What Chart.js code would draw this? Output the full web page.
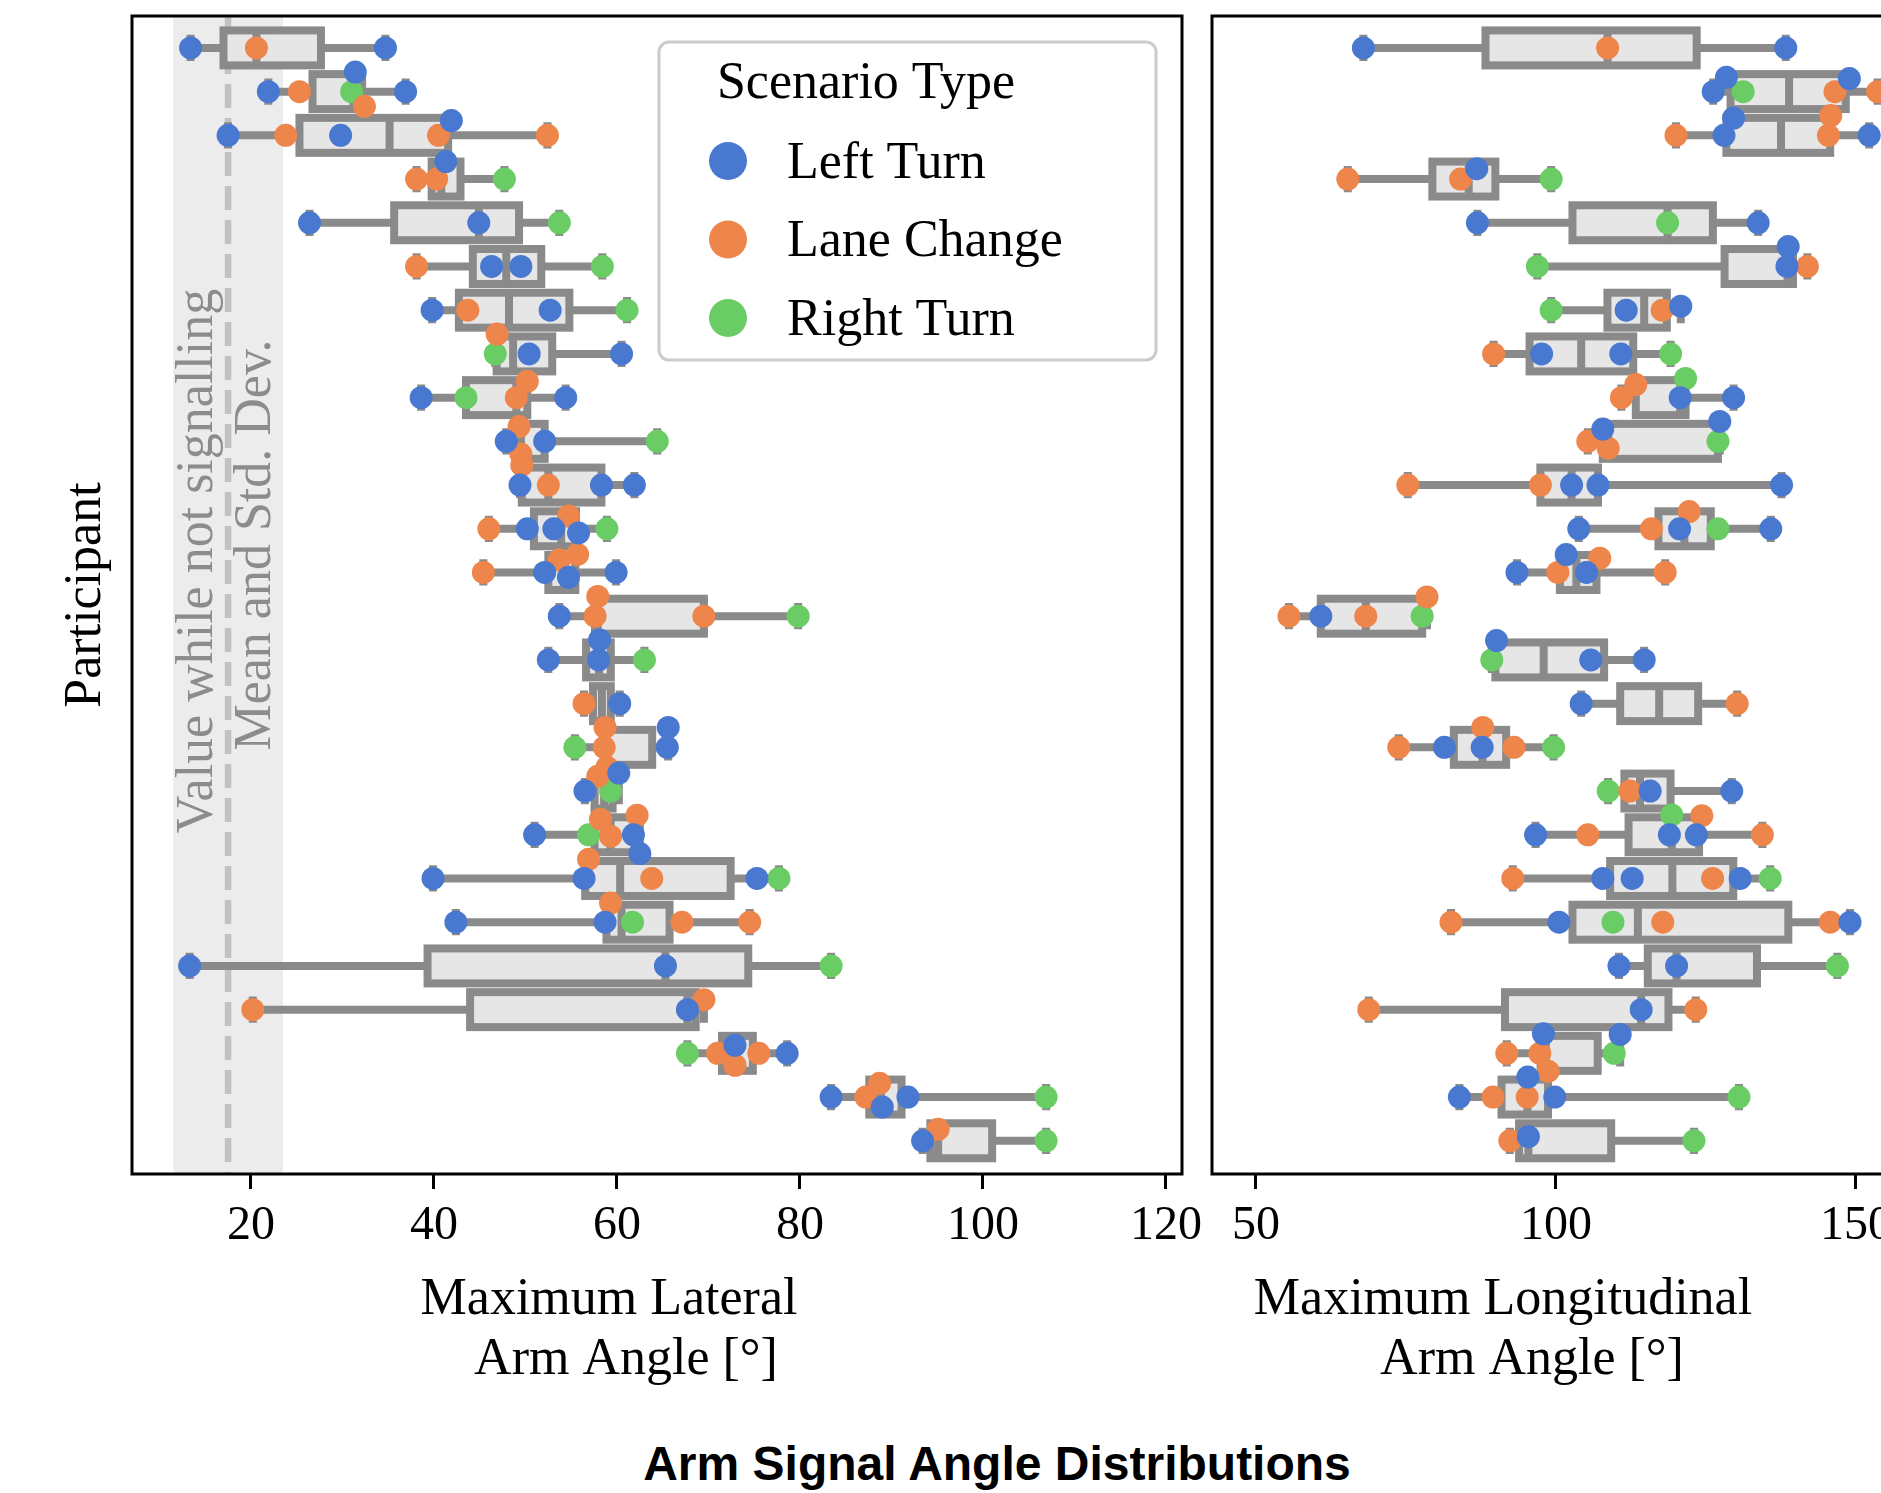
<!DOCTYPE html>
<html>
<head>
<meta charset="utf-8">
<script src="https://cdn.jsdelivr.net/npm/chart.js@4.4.0/dist/chart.umd.min.js"></script>
<style>
  html, body { margin: 0; padding: 0; background: #fff; overflow: hidden; }
  #wrap { position: relative; width: 1881px; height: 1493px; overflow: hidden; }
  #lat { position: absolute; left: 0; top: 0; }
  #lon { position: absolute; left: 1150px; top: 0; }
  #title { position: absolute; left: 0; top: 1436px; width: 1994px; line-height: 60px; text-align: center;
           font: bold 48px "Liberation Sans", Arial, sans-serif; color: #000; }
</style>
</head>
<body>
<div id="wrap">
  <canvas id="lat" width="1240" height="1420"></canvas>
  <canvas id="lon" width="1110" height="1420"></canvas>
  <div id="title">Arm Signal Angle Distributions</div>
</div>
<script>
// one entry per participant (top to bottom), values in degrees
const participants = ["P1", "P2", "P3", "P4", "P5", "P6", "P7", "P8", "P9", "P10", "P11", "P12", "P13",
  "P14", "P15", "P16", "P17", "P18", "P19", "P20", "P21", "P22", "P23", "P24", "P25", "P26"];
const scenarios = ["Left Turn", "Lane Change", "Right Turn"];
const scenarioColors = ["#4878d0", "#ee854a", "#6acc64"];

const latLeftTurn = [
  [13.4, 34.7], [21.9, 31.4, 36.9], [17.5, 29.8, 41.9], [41.3], [26.4, 44.9], [46.3, 49.5], [39.8, 52.7], [50.4, 60.5], [38.6, 54.4], [47.9, 52.1],
  [49.4, 58.3, 61.9], [50.2, 53.1, 55.8], [52.1, 54.7, 59.9], [53.7], [52.5, 58.0, 58.1], [60.3], [65.5, 65.6], [56.5, 60.2], [51.0, 61.8, 62.5], [39.9, 56.4, 75.3],
  [42.4, 58.7], [13.3, 65.3], [67.7], [72.9, 78.6], [83.4, 89.0, 91.8], [93.4]
];
const latLaneChange = [
  [20.6], [25.3, 32.4], [23.8, 40.5, 52.4], [38.1, 40.3], [], [38.1], [43.7], [46.9], [49.0, 50.2], [49.3, 49.5],
  [49.6, 52.5], [46.0, 54.7], [45.4, 53.7, 55.7], [57.6, 57.9, 69.5], [], [56.4], [58.6, 58.7, 58.9], [57.9], [58.2, 59.3, 62.2], [56.9, 63.8],
  [59.3, 67.1, 74.5], [], [20.2, 69.5], [71.0, 72.9, 75.5], [87.2, 88.7], [95.1]
];
const latRightTurn = [
  [], [31.0], [], [47.7], [53.7], [58.4], [61.1], [46.7], [43.5], [64.4],
  [], [58.9], [], [79.8], [63.0], [], [55.4], [59.3], [56.9], [77.7],
  [61.7], [83.4], [], [67.7], [106.9], [106.9]
];

const lonLeftTurn = [
  [67.9, 138.3], [126.2, 128.4, 148.9], [128.0, 129.6, 152.2], [86.8], [86.9, 133.7], [138.5, 138.7], [111.7, 120.8], [97.6, 110.8], [120.7, 129.6], [107.8, 127.3],
  [102.6, 107.0, 137.6], [103.8, 120.6, 135.8], [93.5, 101.7, 105.1], [60.8], [90.1, 105.8, 114.7], [104.2], [81.4, 87.7], [115.7, 129.3], [96.6, 118.9, 123.4], [107.8, 112.7, 130.7],
  [100.5, 149.0], [110.5, 120.1], [114.2], [97.9, 110.7], [83.9, 95.3, 99.8], [95.4]
];
const lonLaneChange = [
  [108.6], [146.5, 153.6], [120.0, 145.4, 145.8], [65.3, 84.1], [], [141.9], [117.7], [89.6], [110.9, 113.3], [105.3, 108.7],
  [75.3, 97.4], [115.9, 122.2], [100.3, 107.3, 118.2], [55.5, 68.3, 78.5], [], [130.2], [73.8, 87.8, 93.0], [112.3], [105.3, 124.3, 134.4], [92.8, 126.1],
  [82.5, 117.8, 145.7], [], [68.8, 123.3], [91.8, 97.3, 98.7], [89.5, 95.2], [92.3]
];
const lonRightTurn = [
  [], [131.2], [], [99.2], [118.6], [96.9], [99.2], [119.1], [121.6], [127.0],
  [], [127.0], [], [77.7], [89.3], [], [99.6], [108.7], [119.3], [135.7],
  [109.5], [146.9], [], [109.7], [130.5], [123.0]
];

const latTicks = [20, 40, 60, 80, 100, 120];
const lonTicks = [50, 100, 150, 200];

// baseline while not signalling (mean and std. dev.)
const restMean = 17.5;
const restStd = 6.0;

const SERIF = '"Liberation Serif", "Times New Roman", "DejaVu Serif", serif';
const BOX_LINE = "#8a8a8a";
const BOX_FILL = "#e6e6e6";
const DOT_R = 11.5;
const SWARM_GAP = 19;

function quantile(s, p) {
  const pos = (s.length - 1) * p, lo = Math.floor(pos), hi = Math.ceil(pos);
  return s[lo] + (s[hi] - s[lo]) * (pos - lo);
}

const boxPlugin = {
  id: "boxes",
  beforeDatasetsDraw(chart, args, o) {
    const { ctx, chartArea: a, scales: { x, y } } = chart;
    ctx.save();
    ctx.beginPath();
    ctx.rect(a.left, a.top, a.right - a.left, a.bottom - a.top);
    ctx.clip();

    if (o.rest) {
      const x0 = x.getPixelForValue(restMean - restStd), x1 = x.getPixelForValue(restMean + restStd);
      ctx.fillStyle = "#ececec";
      ctx.fillRect(x0, a.top, x1 - x0, a.bottom - a.top);
      const xm = x.getPixelForValue(restMean);
      ctx.strokeStyle = "#c2c2c2";
      ctx.lineWidth = 6.5;
      ctx.setLineDash([24, 10]);
      ctx.beginPath(); ctx.moveTo(xm, a.top); ctx.lineTo(xm, a.bottom); ctx.stroke();
      ctx.setLineDash([]);
      ctx.fillStyle = "#8c8c8c";
      ctx.font = `52px ${SERIF}`;
      ctx.textAlign = "center";
      ctx.textBaseline = "middle";
      [["Value while not signalling", -30, 545], ["Mean and Std. Dev.", 28, 529]].forEach(([t, dx, cy]) => {
        ctx.save();
        ctx.translate(xm + dx, a.top + cy);
        ctx.rotate(-Math.PI / 2);
        ctx.fillText(t, 0, 0);
        ctx.restore();
      });
    }

    const row = Math.abs(y.getPixelForValue(1) - y.getPixelForValue(0));
    const half = 0.4 * row, cap = 0.3 * row;
    ctx.strokeStyle = BOX_LINE;
    ctx.lineWidth = 8;
    o.series[0].forEach((_, i) => {
      const v = o.series.flatMap(s => s[i]).sort((p, q) => p - q);
      if (!v.length) return;
      const yc = y.getPixelForValue(i);
      const px = [v[0], quantile(v, 0.25), quantile(v, 0.5), quantile(v, 0.75), v[v.length - 1]].map(t => x.getPixelForValue(t));
      ctx.beginPath();
      ctx.moveTo(px[0], yc); ctx.lineTo(px[1], yc);
      ctx.moveTo(px[3], yc); ctx.lineTo(px[4], yc);
      ctx.moveTo(px[0], yc - cap); ctx.lineTo(px[0], yc + cap);
      ctx.moveTo(px[4], yc - cap); ctx.lineTo(px[4], yc + cap);
      ctx.stroke();
      ctx.fillStyle = BOX_FILL;
      ctx.fillRect(px[1], yc - half, px[3] - px[1], 2 * half);
      ctx.strokeRect(px[1], yc - half, px[3] - px[1], 2 * half);
      ctx.beginPath(); ctx.moveTo(px[2], yc - half); ctx.lineTo(px[2], yc + half); ctx.stroke();
    });
    ctx.restore();
  },
  afterDatasetsDraw(chart) {
    const { ctx, chartArea: a } = chart;
    ctx.save();
    ctx.strokeStyle = "#000";
    ctx.lineWidth = 3;
    ctx.strokeRect(a.left, a.top, a.right - a.left, a.bottom - a.top);
    ctx.restore();
  },
  afterDraw(chart, args, o) {
    const ctx = chart.ctx;
    ctx.save();
    ctx.fillStyle = "#000";
    ctx.font = `52px ${SERIF}`;
    ctx.textAlign = "center";
    ctx.textBaseline = "middle";
    o.xTitle.forEach(([t, cx, cy]) => ctx.fillText(t, cx, cy));

    const L = o.legend;
    if (L) {
      ctx.beginPath();
      ctx.roundRect(L.left, L.top, L.width, L.height, 10);
      ctx.fillStyle = "rgba(255,255,255,0.8)";
      ctx.fill();
      ctx.lineWidth = 3;
      ctx.strokeStyle = "#cccccc";
      ctx.stroke();
      ctx.fillStyle = "#000";
      ctx.fillText("Scenario Type", L.left + 207, L.top + 42);
      ctx.textAlign = "left";
      chart.data.datasets.forEach((ds, k) => {
        const yy = L.top + 119 + k * 78.5;
        ctx.beginPath();
        ctx.arc(L.left + 69, yy, 19, 0, 2 * Math.PI);
        ctx.fillStyle = ds.backgroundColor;
        ctx.fill();
        ctx.fillStyle = "#000";
        ctx.fillText(ds.label, L.left + 128, yy + 3);
      });
    }
    ctx.restore();
  }
};

// seaborn-like beeswarm: offsets across the participant row so dots don't overlap
function applySwarm(chart, series) {
  const { x, y } = chart.scales;
  const rowPx = Math.abs(y.getPixelForValue(1) - y.getPixelForValue(0));
  const d = SWARM_GAP;
  series[0].forEach((_, i) => {
    const pts = [];
    series.forEach((s, k) => s[i].forEach(v => pts.push({ k, v, p: x.getPixelForValue(v) })));
    pts.sort((a, b) => a.v - b.v);
    const placed = [];
    pts.forEach(pt => {
      const neigh = placed.filter(q => Math.abs(q.p - pt.p) < d);
      const cands = [0];
      let leftFirst = true;
      neigh.forEach(q => {
        const dp = pt.p - q.p;
        const dc = Math.sqrt(Math.max(d * d - dp * dp, 0)) * 1.05;
        cands.push(...(leftFirst ? [q.c - dc, q.c + dc] : [q.c + dc, q.c - dc]));
        leftFirst = !leftFirst;
      });
      const order = cands.map((c, j) => [c, j]).sort((u, w) => Math.abs(u[0]) - Math.abs(w[0]) || u[1] - w[1]);
      const ok = order.find(([c]) => neigh.every(q => (q.p - pt.p) ** 2 + (q.c - c) ** 2 >= d * d * 0.999));
      pt.c = ok ? ok[0] : 0;
      placed.push(pt);
    });
    pts.forEach(pt => chart.data.datasets[pt.k].data.push({ x: pt.v, y: i + pt.c / rowPx }));
  });
  chart.update("none");
}

function makeChart(id, series, cfg) {
  const chart = new Chart(document.getElementById(id), {
    type: "scatter",
    data: {
      labels: participants,
      datasets: scenarios.map((name, k) => ({
        label: name,
        data: [],
        backgroundColor: scenarioColors[k],
        borderWidth: 0,
        pointRadius: DOT_R,
        pointHoverRadius: DOT_R
      }))
    },
    options: {
      responsive: false,
      animation: false,
      events: [],
      layout: { padding: cfg.padding },
      plugins: {
        legend: { display: false },
        tooltip: { enabled: false },
        boxes: { series, rest: cfg.rest, xTitle: cfg.xTitle, legend: cfg.legend }
      },
      scales: {
        x: {
          type: "linear",
          min: cfg.min,
          max: cfg.max,
          afterBuildTicks: s => { s.ticks = cfg.ticks.map(v => ({ value: v })); },
          afterFit: s => { s.height = 246; },
          ticks: { autoSkip: false, maxRotation: 0, padding: 9, color: "#000", font: { family: SERIF, size: 48 } },
          grid: { drawOnChartArea: false, color: "#000", lineWidth: 3, tickLength: 15 },
          border: { display: false }
        },
        y: {
          type: "linear",
          reverse: true,
          min: -0.73,
          max: 25.76,
          display: !!cfg.yTitle,
          afterFit: s => { s.width = cfg.yTitle ? 132 : 0; },
          ticks: { display: false },
          grid: { display: false },
          border: { display: false },
          title: {
            display: !!cfg.yTitle,
            text: cfg.yTitle || "",
            color: "#000",
            font: { family: SERIF, size: 52 },
            padding: { top: 55, bottom: 0 }
          }
        }
      }
    },
    plugins: [boxPlugin]
  });
  applySwarm(chart, series);
  return chart;
}

makeChart("lat", [latLeftTurn, latLaneChange, latRightTurn], {
  min: 7.0, max: 121.75, ticks: latTicks,
  padding: { left: 0, top: 16, right: 58, bottom: 0 },
  yTitle: "Participant",
  rest: true,
  xTitle: [["Maximum Lateral", 609, 1300], ["Arm Angle [°]", 626, 1360]],
  legend: { left: 659, top: 42, width: 497, height: 318 }
});

makeChart("lon", [lonLeftTurn, lonLaneChange, lonRightTurn], {
  min: 42.67, max: 210.67, ticks: lonTicks,
  padding: { left: 62, top: 16, right: 40, bottom: 0 },
  rest: false,
  xTitle: [["Maximum Longitudinal", 1503 - 1150, 1300], ["Arm Angle [°]", 1532 - 1150, 1360]]
});
</script>
</body>
</html>
